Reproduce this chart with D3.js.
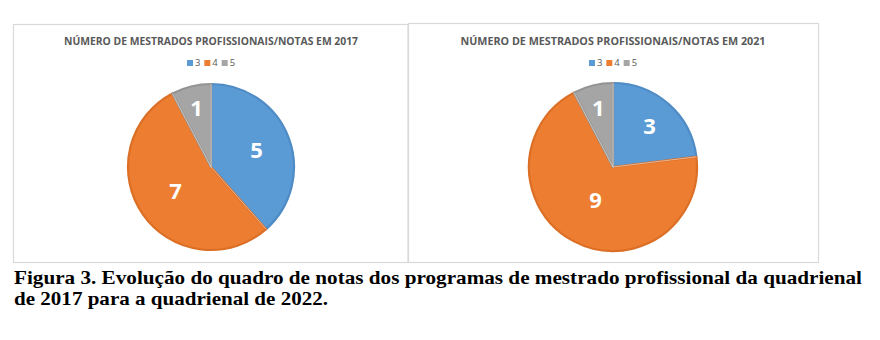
<!DOCTYPE html>
<html>
<head>
<meta charset="utf-8">
<script src="https://cdn.jsdelivr.net/npm/d3@7"></script>
<style>
  body { margin: 0; background: #fff; }
  .sans { font-family: "Open Sans", "Liberation Sans", sans-serif; }
  .cap { font-family: "Liberation Serif", "DejaVu Serif", serif; }
</style>
</head>
<body>
<div id="chart"></div>
<script>
// data
const categories = ["3", "4", "5"];
const values2017 = [5, 7, 1];
const values2021 = [3, 9, 1];
const titles = ["NÚMERO DE MESTRADOS PROFISSIONAIS/NOTAS EM 2017",
                "NÚMERO DE MESTRADOS PROFISSIONAIS/NOTAS EM 2021"];
const caption = ["Figura 3. Evolução do quadro de notas dos programas de mestrado profissional da quadrienal",
                 "de 2017 para a quadrienal de 2022."];

const colors = ["#5b9bd5", "#ed7d31", "#a5a5a5"];
const edgeColors = ["#4f8bc4", "#dc6f26", "#939393"];

const svg = d3.select("#chart")
  .append("svg")
    .attr("width", 880)
    .attr("height", 340);

// panel layout
const panels = [
  {values: values2017, title: titles[0], x0: 13, x1: 407.5, y0: 24, y1: 262, cx: 211, cy: 167, r: 83, titleW: 294},
  {values: values2021, title: titles[1], x0: 408, x1: 818, y0: 23, y1: 262, cx: 613, cy: 167, r: 84, titleW: 305}
];

const color = d3.scaleOrdinal().domain(categories).range(colors);
const edge = d3.scaleOrdinal().domain(categories).range(edgeColors);

const pie = d3.pie().sort(null).value(d => d.value);

panels.forEach(p => {
  const g = svg.append("g").attr("class", "sans");

  g.append("rect")
    .attr("x", p.x0 + 0.5)
    .attr("y", p.y0 + 0.5)
    .attr("width", p.x1 - p.x0)
    .attr("height", p.y1 - p.y0)
    .attr("fill", "#fff")
    .attr("stroke", "#d9d9d9")
    .attr("stroke-width", 1.2);

  // title
  g.append("text")
    .attr("x", p.cx)
    .attr("y", 45)
    .attr("text-anchor", "middle")
    .attr("font-size", 10)
    .attr("font-weight", 700)
    .attr("fill", "#595959")
    .attr("textLength", p.titleW)
    .attr("lengthAdjust", "spacingAndGlyphs")
    .text(p.title);

  // legend
  const lx = d3.scaleBand()
    .domain(categories)
    .range([p.cx - 24, p.cx + 28]);
  const leg = g.selectAll(".leg")
    .data(categories)
    .enter().append("g")
      .attr("transform", d => "translate(" + lx(d) + ",63)");
  leg.append("rect")
    .attr("x", 0).attr("y", -3)
    .attr("width", 6).attr("height", 6)
    .attr("fill", d => color(d));
  leg.append("text")
    .attr("x", 8)
    .attr("y", 3.4)
    .attr("font-size", 9.5)
    .attr("fill", "#595959")
    .text(d => d);

  // pie
  const data = categories.map((c, i) => ({cat: c, value: p.values[i]}));
  const total = d3.sum(p.values);
  const arcs = pie(data);
  const arc = d3.arc().innerRadius(0).outerRadius(p.r);

  const pg = g.append("g").attr("transform", "translate(" + p.cx + "," + p.cy + ")");
  pg.selectAll("path")
    .data(arcs)
    .enter().append("path")
      .attr("d", arc)
      .attr("fill", d => color(d.data.cat))
      .attr("stroke", d => edge(d.data.cat))
      .attr("stroke-width", 2.2)
      .attr("stroke-linejoin", "round");

  // thin light seams between slices
  pg.selectAll("line.seam")
    .data(arcs)
    .enter().append("line")
      .attr("x1", 0).attr("y1", 0)
      .attr("x2", d => p.r * Math.sin(d.startAngle))
      .attr("y2", d => -p.r * Math.cos(d.startAngle))
      .attr("stroke", "#f2e6dc")
      .attr("stroke-width", 0.6);

  // data labels, placed deeper for bigger slices (like excel's best fit)
  pg.selectAll("text.lbl")
    .data(arcs)
    .enter().append("text")
      .attr("class", "lbl")
      .attr("transform", d => {
        const lr = p.r * (0.76 - 0.45 * d.data.value / total);
        const c = d3.arc().innerRadius(lr).outerRadius(lr).centroid(d);
        return "translate(" + c[0] + "," + c[1] + ")";
      })
      .attr("text-anchor", "middle")
      .attr("dy", "0.36em")
      .attr("font-size", 22)
      .attr("font-weight", 700)
      .attr("fill", "#fff")
      .text(d => d.data.value);
});

// caption
svg.selectAll("text.cap")
  .data(caption)
  .enter().append("text")
    .attr("class", "cap")
    .attr("x", 14)
    .attr("y", (d, i) => 284 + i * 21)
    .attr("font-weight", 700)
    .attr("font-size", 19.5)
    .attr("fill", "#000")
    .attr("textLength", (d, i) => i === 0 ? 848 : 314)
    .attr("lengthAdjust", "spacingAndGlyphs")
    .text(d => d);
</script>
</body>
</html>
